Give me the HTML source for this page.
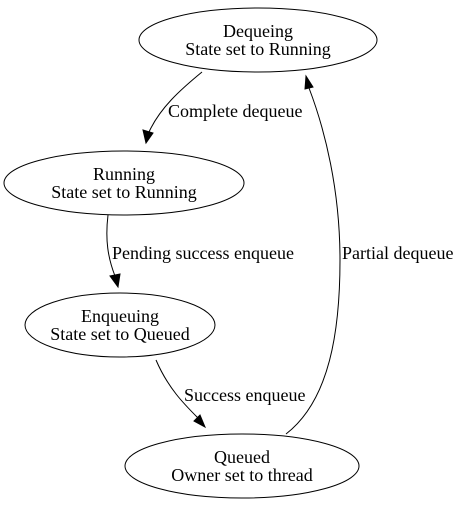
<!DOCTYPE html>
<html><head><meta charset="utf-8"><style>
html,body{margin:0;padding:0;background:#fff;}
svg{display:block;}
text{font-family:"Liberation Serif",serif;font-size:18px;fill:#000;}
</style></head><body>
<svg width="460" height="507" viewBox="0 0 460 507" xmlns="http://www.w3.org/2000/svg">
<g fill="none" stroke="#000" stroke-width="1">
<ellipse cx="258" cy="40" rx="119" ry="32"/>
<ellipse cx="124" cy="183" rx="120" ry="32"/>
<ellipse cx="120" cy="325" rx="95" ry="32"/>
<ellipse cx="242" cy="466" rx="117" ry="32"/>
<path d="M202,72 C180,90 160,108 149,132"/>
<path d="M108,215 C105,240 108,258 115,276"/>
<path d="M156,360 C168,388 184,404 198,418"/>
<path d="M286,434 C330,400 340,330 340,260 C340,190 325,130 309,88"/>
</g>
<g fill="#000" stroke="#000">
<polygon points="143,130 146,143 153,133"/>
<polygon points="110,276 118,287 120,274"/>
<polygon points="194,421 205,427 200,415"/>
<polygon points="305,89 306,76 313,87"/>
</g>
<g text-anchor="middle">
<text x="258" y="37">Dequeing</text>
<text x="258" y="55">State set to Running</text>
<text x="124" y="180">Running</text>
<text x="124" y="198">State set to Running</text>
<text x="120" y="322">Enqueuing</text>
<text x="120" y="340">State set to Queued</text>
<text x="242" y="463">Queued</text>
<text x="242" y="481">Owner set to thread</text>
</g>
<text x="168" y="117">Complete dequeue</text>
<text x="112" y="259">Pending success enqueue</text>
<text x="184" y="401">Success enqueue</text>
<text x="342" y="259">Partial dequeue</text>
</svg>
</body></html>
